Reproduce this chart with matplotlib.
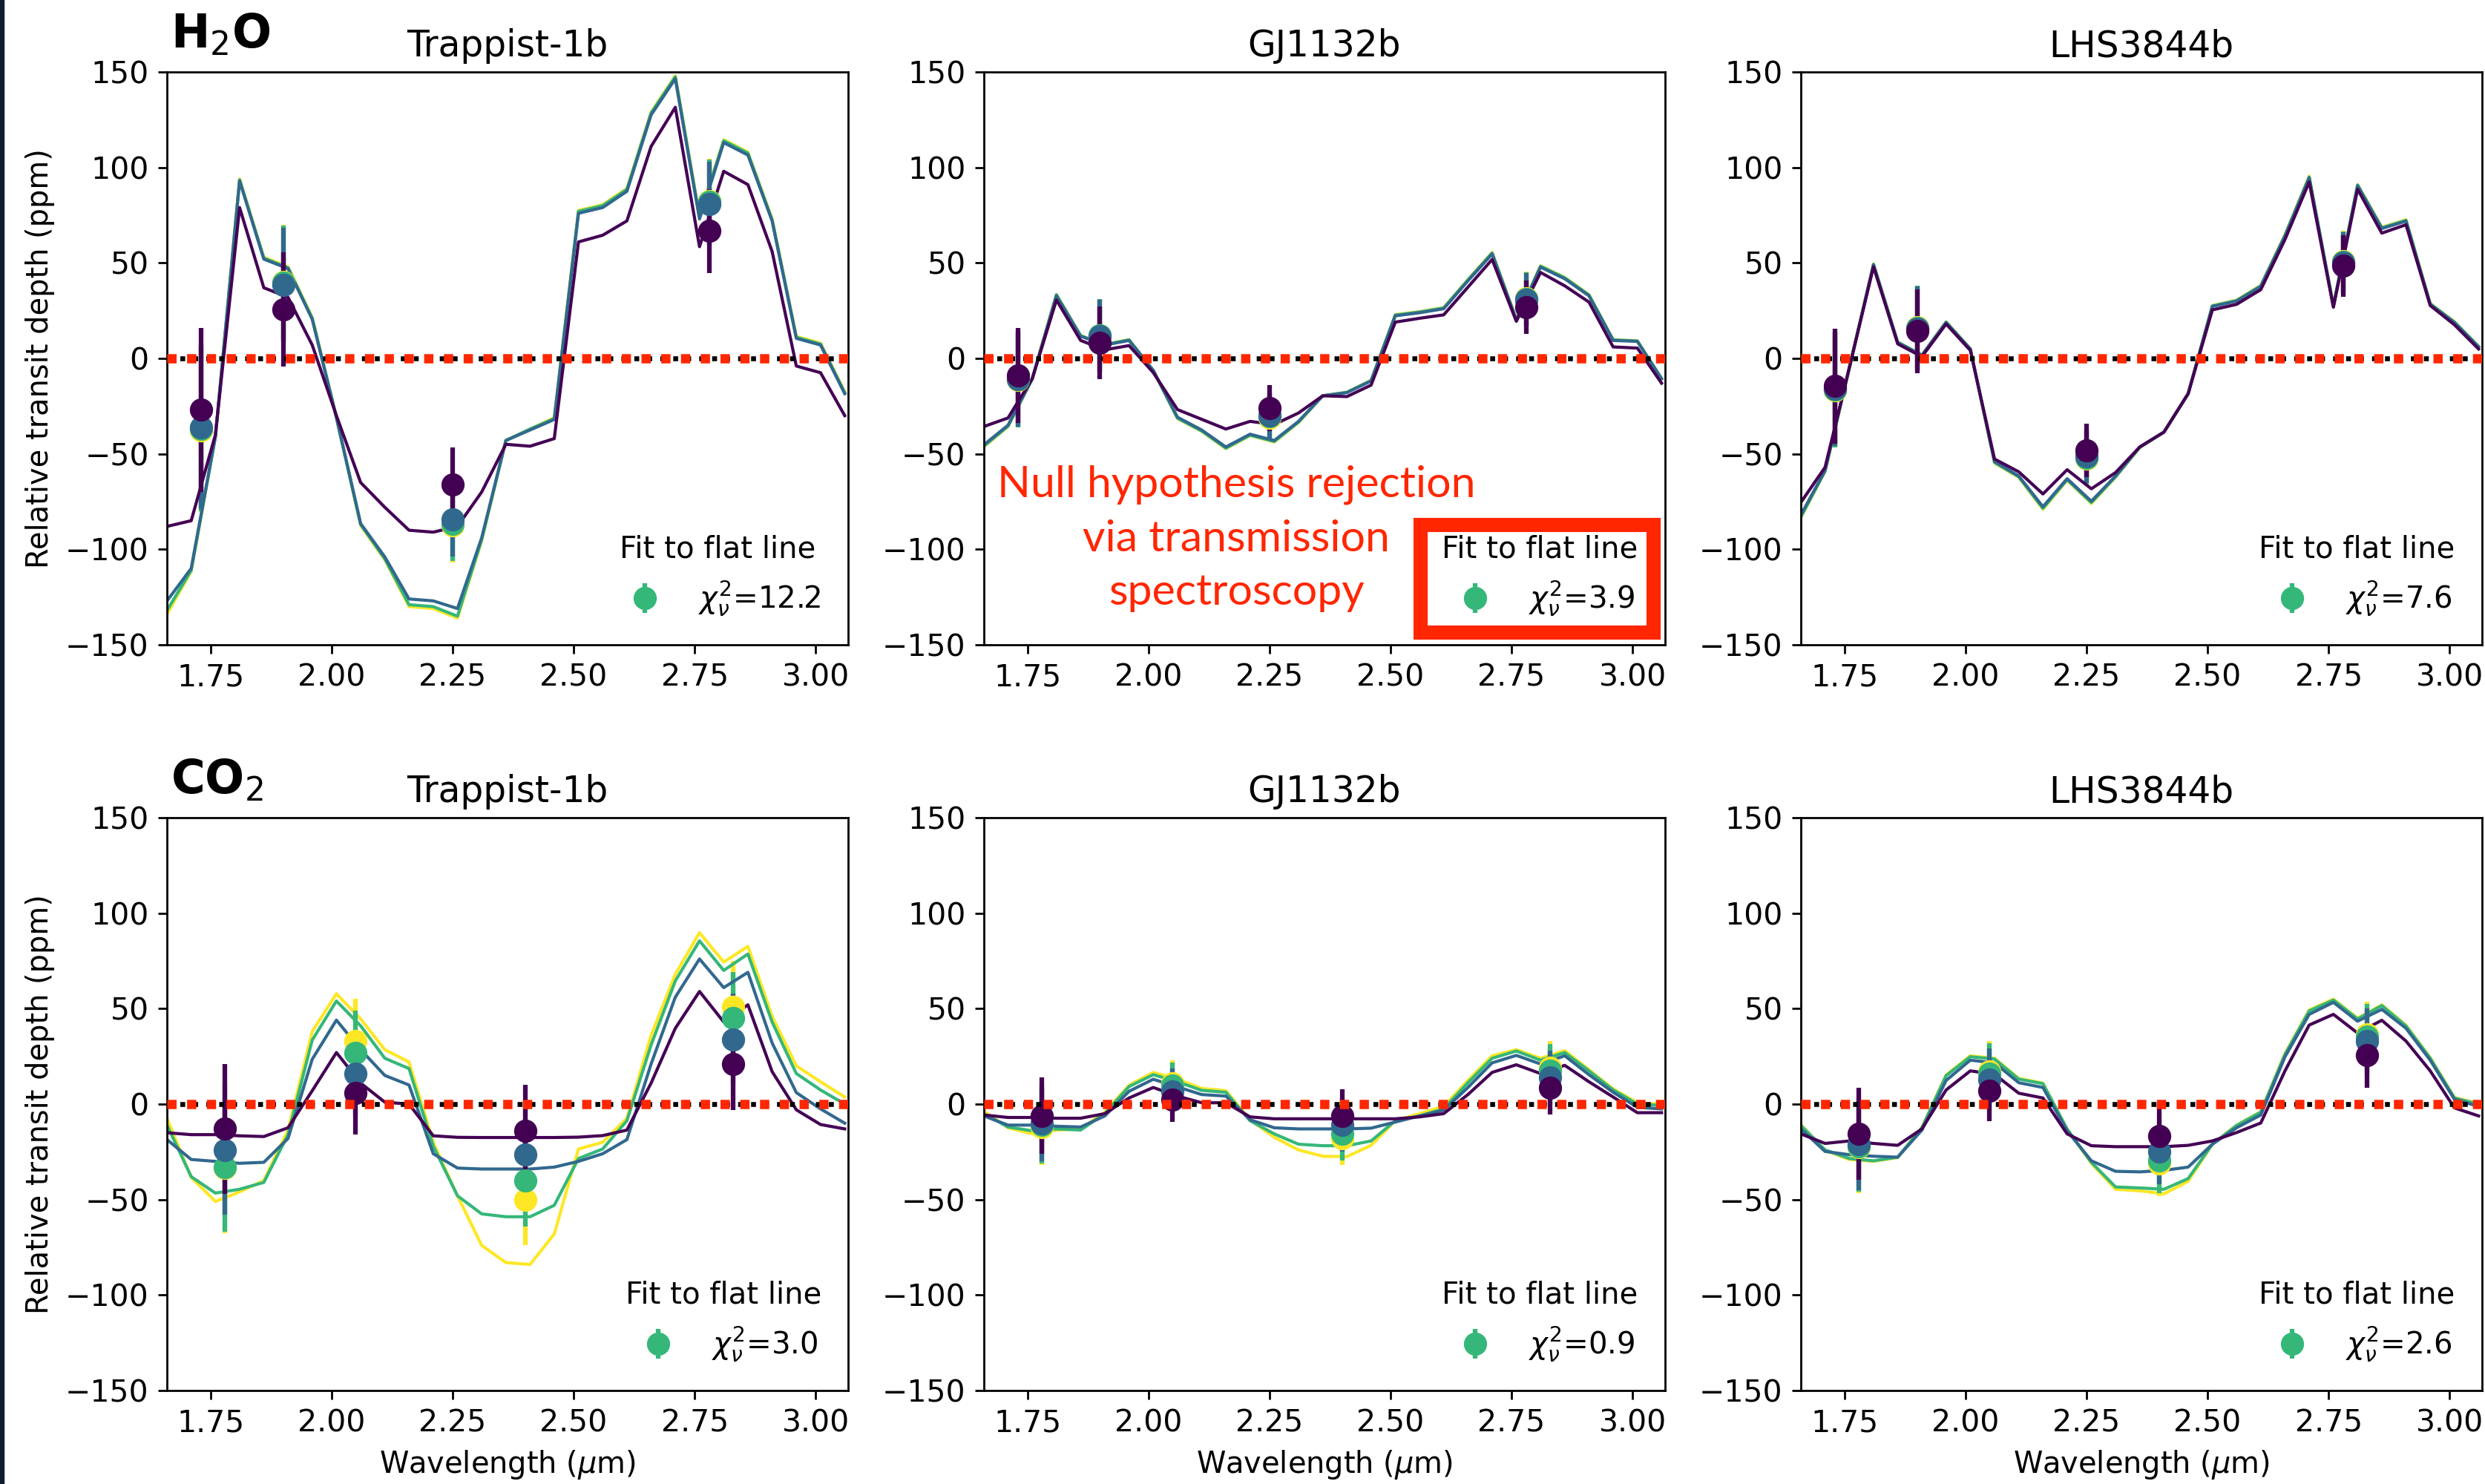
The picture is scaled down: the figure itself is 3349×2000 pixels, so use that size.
import matplotlib.pyplot as plt
from matplotlib.patches import Rectangle

# model wavelength grid (um)
WAVE = [1.66, 1.71, 1.76, 1.81, 1.86, 1.91, 1.96, 2.01, 2.06, 2.11, 2.16, 2.21, 2.26, 2.31, 2.36,
        2.41, 2.46, 2.51, 2.56, 2.61, 2.66, 2.71, 2.76, 2.81, 2.86, 2.91, 2.96, 3.01, 3.06]

# binned observation wavelengths
H2O_BINS = [1.73, 1.90, 2.25, 2.78]
CO2_BINS = [1.78, 2.05, 2.40, 2.83]

PLANETS = ["Trappist-1b", "GJ1132b", "LHS3844b"]
CHI2 = [["12.2", "3.9", "7.6"], ["3.0", "0.9", "2.6"]]

# colours: purple, blue, green, yellow (viridis)
COLORS = ["#440154", "#31688e", "#35b779", "#fde725"]
RED = "#ff2600"

# ---- H2O, Trappist-1b ----
TRAP_H2O_LINES = [
    [-88, -85, -40, 79, 37, 32, 7, -30, -65, -78, -90, -91, -88, -70, -45, -46, -42, 61, 64.5, 72,
     111, 131.5, 58.5, 98, 91, 56, -4, -7.5, -30],
    [-127, -110, -41, 93, 52, 47, 20.5, -31, -86.5, -104, -126, -127, -131, -94, -43, -37.5, -32, 76,
     79, 87.5, 127.5, 146.5, 73, 113, 106.5, 72, 10.5, 7, -18.5],
    [-132, -111, -41, 93.5, 52.5, 47.5, 21, -31, -87, -105, -129, -130, -135, -95, -43, -37, -31.5, 77,
     80, 88.5, 128.5, 147.5, 74, 114, 107.5, 72.5, 11, 7.5, -18],
    [-134, -111.5, -41, 94, 53, 48, 21.5, -31, -87.5, -105.5, -130, -131, -136, -95.5, -43, -37, -31,
     77.5, 80.5, 89, 129, 148, 74.5, 114.5, 108, 73, 11.5, 8, -17.5],
]
TRAP_H2O_PTS = [[-27, 25.7, -66, 66.7], [-36, 38.4, -84.4, 81],
                [-37, 39.5, -86.5, 82], [-37.5, 40, -87.5, 82.5]]
TRAP_H2O_ERR = [43, 30, 19.5, 22]

# ---- H2O, GJ1132b ----
GJ_H2O_LINES = [
    [-35.7, -31.2, -10.7, 30.6, 9.4, 4.5, 6.7, -7.4, -26.8, -31.9, -37, -33, -34.6, -28.6, -19.6, -20,
     -14, 19, 21, 22.8, 37.3, 51.8, 19.4, 45, 38, 29.5, 6, 5.4, -13],
    [-45.3, -35, -10.7, 32.8, 11.6, 7, 9.4, -6.3, -30.8, -37.5, -46.4, -39.7, -43, -33, -19.6, -17.9,
     -11.8, 22.3, 23.9, 26, 40.6, 54.7, 20, 47.8, 41.7, 32.8, 9.4, 8.9, -10.7],
    [-46, -35.5, -10.7, 33.3, 11.9, 7.2, 9.7, -6.3, -31.3, -38, -47, -40.2, -43.5, -33.4, -19.6, -17.8,
     -11.6, 22.7, 24.3, 26.4, 41.1, 55.2, 20.4, 48.3, 42.2, 33.2, 9.7, 9.1, -10.6],
    [-46.3, -35.7, -10.7, 33.5, 12, 7.3, 9.8, -6.3, -31.5, -38.2, -47.3, -40.4, -43.8, -33.6, -19.6,
     -17.7, -11.5, 22.9, 24.5, 26.6, 41.3, 55.5, 20.6, 48.5, 42.4, 33.4, 9.8, 9.2, -10.5],
]
GJ_H2O_PTS = [[-9, 8.3, -26, 26.8], [-10.7, 11.6, -30, 30.6],
              [-11, 12, -30.5, 31], [-11.2, 12.2, -31, 31.3]]
GJ_H2O_ERR = [25, 19, 12, 14]

# ---- H2O, LHS3844b ----
LHS_H2O_LINES = [
    [-75.4, -57, -5, 48, 7.6, 0.9, 18, 4.2, -52.7, -59.4, -71, -58.3, -68.3, -59.8, -46.4, -38.6, -18.5,
     25.4, 28.3, 36, 62.3, 92.4, 26.8, 88.6, 65.6, 70, 27.7, 17.6, 4.9],
    [-82, -58.7, -5, 49, 8.3, 1.6, 18.8, 4.9, -54, -61.6, -77.7, -63, -74.8, -61.6, -46.4, -38.6, -18.5,
     27.2, 30, 37.7, 64, 94.6, 27.2, 90.4, 68, 71.9, 28.3, 18.8, 6],
    [-83, -59, -5, 49.3, 8.5, 1.7, 19, 5, -54.5, -62, -78.5, -63.5, -75.5, -62, -46.6, -38.6, -18.4,
     27.5, 30.3, 38, 64.5, 95, 27.5, 90.8, 68.4, 72.3, 28.6, 19, 6.2],
    [-83.5, -59.2, -5, 49.5, 8.6, 1.8, 19.1, 5.1, -54.8, -62.3, -79, -63.8, -76, -62.2, -46.7, -38.6,
     -18.3, 27.7, 30.5, 38.2, 64.8, 95.4, 27.7, 91, 68.7, 72.6, 28.8, 19.2, 6.3],
]
LHS_H2O_PTS = [[-14.5, 14.3, -48.2, 48.4], [-16, 15.6, -51.3, 50],
               [-16.5, 16, -52, 50.5], [-16.7, 16.2, -52.3, 50.8]]
LHS_H2O_ERR = [30, 22, 14, 16]

# ---- CO2, Trappist-1b ----
TRAP_CO2_LINES = [
    [-15, -16, -16, -16.6, -17, -12.4, 7, 27, 11, 1, 0, -16.6, -17.4, -17.5, -17.5, -17.5, -17.5, -17.3,
     -16.5, -13.6, 11, 39.7, 59, 43, 52, 17, -3, -10.7, -13],
    [-18.6, -29, -30, -31, -30.5, -18, 23.5, 44, 28.5, 15, 10, -26, -33.5, -34, -34, -34, -33, -30, -26,
     -18.6, 21, 56, 76, 61, 69, 32, 6, -2.5, -10],
    [-11, -38, -46.6, -44.6, -41, -16, 33.5, 54, 41, 24, 18.6, -22, -48, -57.5, -59, -59, -53, -28.5,
     -23.5, -8.7, 31, 64.5, 85.5, 70, 78.6, 43, 16, 7.4, 0],
    [-7.4, -38.4, -51, -46, -40, -13.6, 38, 57.8, 44.6, 28.5, 22, -20, -48, -74, -83, -84, -68, -23.5,
     -20, -7.4, 36, 68, 89.8, 74.4, 82.6, 46, 20, 11.7, 3.7],
]
TRAP_CO2_PTS = [[-13, 6, -14, 21], [-24, 16, -26.5, 34],
                [-33, 27, -40, 45], [-33.5, 33, -50, 51]]
TRAP_CO2_ERR = [34, 22, 24, 24]

# ---- CO2, GJ1132b ----
GJ_CO2_LINES = [
    [-5.7, -7, -7, -7.4, -7.4, -5, 3.2, 8.7, 4.2, 0.7, 0.7, -6.7, -7.7, -7.7, -7.7, -7.7, -7.7, -7.7,
     -6.7, -5, 5, 16.6, 20.6, 16, 20.3, 11.7, 3.7, -4.5, -4.5],
    [-6.2, -11, -11, -11.6, -12, -6.2, 6.7, 13, 9, 5, 4.2, -8.2, -12.4, -13, -13, -13, -12.6, -9.4,
     -6.2, -3.2, 8.7, 21.6, 25.5, 21, 25.3, 15.4, 6.2, -1.7, -2.5],
    [-5, -12, -14, -13, -13.6, -5, 9.2, 15.4, 11.7, 7.2, 6.2, -8.7, -15.6, -21, -21.8, -21.8, -19.3,
     -8.7, -6.2, -2.5, 11.2, 24, 27.8, 23, 27, 17.4, 7.4, 0, -0.7],
    [-3.7, -12.4, -15.6, -13.6, -13, -4.2, 9.9, 16.6, 13, 8.2, 7, -8.2, -17.4, -24, -27.3, -27.5, -21.6,
     -8.7, -5, -1.2, 12.4, 25.3, 28.5, 24, 28, 18, 8, 0.7, 0],
]
GJ_CO2_PTS = [[-6.2, 2.5, -6.2, 8.7], [-10, 6.7, -10.7, 14],
              [-11, 9.9, -15.6, 17.4], [-12, 11, -18, 19]]
GJ_CO2_ERR = [20, 12, 14, 14]

# ---- CO2, LHS3844b ----
LHS_CO2_LINES = [
    [-15.6, -20.6, -19.3, -20.6, -21.6, -13, 7.4, 17.4, 15.6, 5.7, 3.2, -15.6, -21.8, -22.3, -22.3,
     -22.3, -21.6, -19.3, -14.9, -9.9, 17.4, 41.4, 47, 37.2, 43.9, 33, 17.4, -2, -6.2],
    [-13, -24.8, -26.5, -27.3, -27.8, -13.6, 12.4, 23, 21.6, 11.2, 8.7, -14, -29.7, -35.2, -35.5, -34.7,
     -33, -21, -12.4, -5.7, 24.8, 47, 53.3, 43.4, 49.6, 39.7, 23, 2.5, -1.2],
    [-11.2, -24, -28.5, -29.7, -27.8, -12.4, 14.9, 24.8, 23.6, 13.1, 10.7, -13.1, -30.5, -43.4, -43.9,
     -44.6, -39, -21, -11.2, -4.2, 26, 48.8, 54.5, 44.6, 51.6, 40.9, 24, 3.2, 0],
    [-10.8, -24.2, -29, -30, -28, -12.2, 15.3, 25.3, 24, 13.5, 11, -13, -31, -44.6, -45.4, -47, -40.4,
     -21, -11, -4, 26.5, 49.3, 55, 45, 52, 41.3, 24.4, 3.5, 0.3],
]
LHS_CO2_PTS = [[-15.6, 7, -16.9, 25.5], [-21, 13, -24.8, 33],
               [-22, 16, -29.7, 35.5], [-22.5, 17, -31, 36.5]]
LHS_CO2_ERR = [24, 16, 17, 17]

PANELS = [
    [(TRAP_H2O_LINES, TRAP_H2O_PTS, TRAP_H2O_ERR), (GJ_H2O_LINES, GJ_H2O_PTS, GJ_H2O_ERR),
     (LHS_H2O_LINES, LHS_H2O_PTS, LHS_H2O_ERR)],
    [(TRAP_CO2_LINES, TRAP_CO2_PTS, TRAP_CO2_ERR), (GJ_CO2_LINES, GJ_CO2_PTS, GJ_CO2_ERR),
     (LHS_CO2_LINES, LHS_CO2_PTS, LHS_CO2_ERR)],
]
ROW_BINS = [H2O_BINS, CO2_BINS]
ROW_LABELS = ["H$_2$O", "CO$_2$"]

XTICKS = [1.75, 2.00, 2.25, 2.50, 2.75, 3.00]
YTICKS = [-150, -100, -50, 0, 50, 100, 150]

LEFTS = [0.0672, 0.3959, 0.7247]
BOTTOMS = [0.5655, 0.063]
W, H = 0.2741, 0.386

fig = plt.figure(figsize=(13.396, 8), dpi=250)

for r in range(2):
    for c in range(3):
        lines, pts, err = PANELS[r][c]
        ax = fig.add_axes([LEFTS[c], BOTTOMS[r], W, H])

        handles = {}
        for m in [3, 2, 1, 0]:
            ax.plot(WAVE, lines[m], color=COLORS[m], lw=1.2)
            handles[m] = ax.errorbar(ROW_BINS[r], pts[m], yerr=err, fmt="o", color=COLORS[m],
                                     ms=8, elinewidth=1.8)

        ax.axhline(0, color="k", ls=":", lw=1.9, zorder=3)
        ax.axhline(0, color=RED, lw=3.6, ls=(0, (1, 1.13)), zorder=4)

        ax.set_xlim(1.66, 3.067)
        ax.set_ylim(-150, 150)
        ax.set_xticks(XTICKS)
        ax.set_xticklabels([f"{t:.2f}" for t in XTICKS])
        ax.set_yticks(YTICKS)
        ax.tick_params(labelsize=11.8)
        ax.set_title(PLANETS[c], fontsize=14)

        ax.legend([handles[2]], [r"$\chi^2_\nu$=" + CHI2[r][c]], title="Fit to flat line",
                  loc="lower right", frameon=False, fontsize=11.6, title_fontsize=11.6)

        if c == 0:
            ax.set_ylabel("Relative transit depth (ppm)", fontsize=11.5)
            ax.text(0.005, 1.042, ROW_LABELS[r], transform=ax.transAxes, fontsize=18,
                    fontweight="bold", va="baseline")
        if r == 1:
            ax.set_xlabel("Wavelength ($\\mu$m)", fontsize=11.5)

# annotation and highlight box
fig.text(0.4975, 0.637, "Null hypothesis rejection\nvia transmission\nspectroscopy",
         ha="center", va="center", color=RED, fontsize=17, family="Lato", linespacing=1.45)
fig.patches.append(Rectangle((0.5714, 0.57425), 0.0939, 0.0725, transform=fig.transFigure,
                             fill=False, ec=RED, lw=5.5, zorder=10))
fig.patches.append(Rectangle((0, 0), 4 / 3349, 1, transform=fig.transFigure,
                             color="#0f1e2e", zorder=10))

fig.savefig("out.png", dpi=250)
